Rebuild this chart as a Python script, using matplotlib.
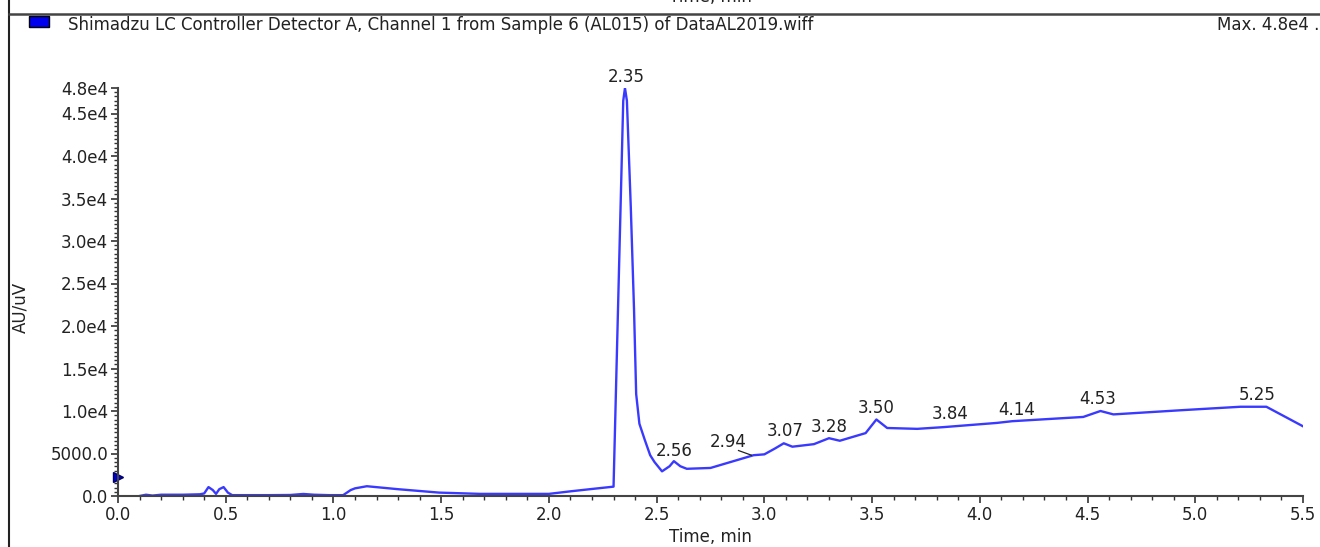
import numpy as np
import matplotlib
matplotlib.use("Agg")
import matplotlib.pyplot as plt
from matplotlib.ticker import MultipleLocator, FixedLocator
from matplotlib.patches import Rectangle
from matplotlib.lines import Line2D

# Chromatogram trace (time in min, signal in AU/uV)
time_min = [0.10, 0.13, 0.16, 0.20, 0.30, 0.38, 0.40, 0.42, 0.44, 0.455, 0.47, 0.49, 0.51,
            0.53, 0.60, 0.70, 0.80, 0.86, 0.91, 0.98, 1.045, 1.08, 1.10, 1.155, 1.30, 1.49,
            1.68, 2.00, 2.10, 2.19, 2.30, 2.345, 2.353, 2.362, 2.38, 2.395, 2.405, 2.42,
            2.445, 2.47, 2.49, 2.525, 2.56, 2.58, 2.61, 2.64, 2.75, 2.83, 2.95, 3.00, 3.05,
            3.09, 3.13, 3.23, 3.30, 3.35, 3.47, 3.52, 3.57, 3.71, 3.83, 4.08, 4.15, 4.48,
            4.56, 4.62, 4.94, 5.21, 5.33, 5.50]
signal = [0, 150, 50, 150, 150, 200, 300, 1050, 700, 250, 800, 1050, 400,
          100, 100, 100, 120, 240, 150, 100, 100, 700, 900, 1150, 800, 400,
          250, 250, 550, 800, 1100, 46500, 48000, 46500, 34000, 22000, 12000, 8500,
          6600, 4800, 4000, 2900, 3500, 4100, 3500, 3200, 3300, 3900, 4800, 4900, 5600,
          6200, 5800, 6100, 6800, 6500, 7400, 9000, 8000, 7900, 8100, 8600, 8800, 9300,
          10000, 9600, 10100, 10500, 10500, 8200]

# Peak labels: retention time text and where it sits
peak_labels = ["2.35", "2.56", "2.94", "3.07", "3.28", "3.50", "3.84", "4.14", "4.53", "5.25"]
label_t = [2.357, 2.58, 2.83, 3.095, 3.30, 3.52, 3.86, 4.17, 4.545, 5.287]
label_v = [49300, 5300, 6350, 7650, 8100, 10350, 9650, 10100, 11400, 11900]

x_ticks = [0.0, 0.5, 1.0, 1.5, 2.0, 2.5, 3.0, 3.5, 4.0, 4.5, 5.0, 5.5]
y_ticks = [0, 5000, 10000, 15000, 20000, 25000, 30000, 35000, 40000, 45000, 48000]
y_tick_labels = ["0.0", "5000.0", "1.0e4", "1.5e4", "2.0e4", "2.5e4", "3.0e4",
                 "3.5e4", "4.0e4", "4.5e4", "4.8e4"]

plt.rcParams['font.family'] = ['DejaVu Sans']
txt = '#222222'
fs = 12

W, H = 1320, 547
fig = plt.figure(figsize=(W / 100, H / 100), dpi=100)
ax = fig.add_axes([118 / W, 1 - 496 / H, (1303 - 118) / W, (496 - 88) / H])

ax.plot(time_min, signal, color='#3a3aff', lw=1.7)

for lab, t, v in zip(peak_labels, label_t, label_v):
    ax.text(t, v, lab, ha='center', va='center', fontsize=fs, color=txt, clip_on=False)

# little leader line under the 2.94 label
ax.plot([2.88, 2.94], [5350, 4800], color=txt, lw=0.9)

# marker on the y axis
ax.plot([0], [2200], marker='>', color='#0000cc', markersize=7, clip_on=False,
        markeredgecolor='#000066')

ax.set_xlim(0, 5.5)
ax.set_ylim(0, 48000)
ax.xaxis.set_major_locator(FixedLocator(x_ticks))
ax.xaxis.set_minor_locator(MultipleLocator(0.1))
ax.yaxis.set_major_locator(FixedLocator(y_ticks))
ax.yaxis.set_minor_locator(MultipleLocator(500))
ax.set_xticklabels([f"{v:.1f}" for v in x_ticks])
ax.set_yticklabels(y_tick_labels)

for s in ['top', 'right']:
    ax.spines[s].set_visible(False)
for s in ['left', 'bottom']:
    ax.spines[s].set_color('#444444')
    ax.spines[s].set_linewidth(1.5)
ax.tick_params(which='major', length=5, width=1.2, color='#333333', labelsize=fs,
               labelcolor=txt, pad=2)
ax.tick_params(which='minor', length=3, width=1.0, color='#333333')

fig.text(20 / W, 1 - 307 / H, "AU/uV", rotation=90, ha='center', va='center',
         fontsize=fs, color=txt)
fig.text(710 / W, 1 - 537 / H, "Time, min", ha='center', va='center', fontsize=fs, color=txt)

# frame bits from the surrounding report
fig.add_artist(Line2D([9 / W, 9 / W], [0, 1], color='#222222', lw=1.5))
fig.add_artist(Line2D([9 / W, 1], [1 - 13.5 / H, 1 - 13.5 / H], color='#444444', lw=1.8))
fig.text(710 / W, 1 + 3 / H, "Time, min", ha='center', va='center', fontsize=fs, color=txt)

fig.add_artist(Rectangle((29 / W, 1 - 27 / H), 20 / W, 11 / H, facecolor='#0000ee',
                         edgecolor='black', lw=1.0))
fig.text(68 / W, 1 - 25 / H,
         "Shimadzu LC Controller Detector A, Channel 1 from Sample 6 (AL015) of DataAL2019.wiff",
         ha='left', va='center', fontsize=fs, color=txt)
fig.text(1217 / W, 1 - 25 / H, "Max. 4.8e4 .", ha='left', va='center', fontsize=fs, color=txt)

fig.savefig("out.png", dpi=100)
